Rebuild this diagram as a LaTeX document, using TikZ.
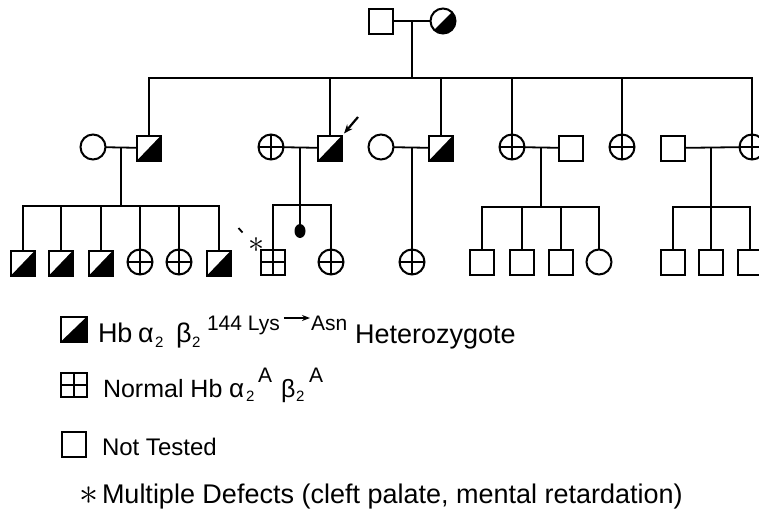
\documentclass[tikz,border=0pt]{standalone}
\usepackage{fix-cm}
\usepackage{fontspec}
\setmainfont{Liberation Sans}
\usetikzlibrary{arrows.meta,calc,shapes.geometric}
\begin{document}
\begin{tikzpicture}[x=1pt,y=-1pt,
  sym/.style={draw, line width=2, inner sep=0, outer sep=0},
  male/.style={sym, rectangle, minimum width=24, minimum height=25},
  female/.style={sym, circle, minimum size=25},
  het/.style={path picture={\fill (path picture bounding box.south west) -- (path picture bounding box.north east) -- (path picture bounding box.south east) -- cycle;}},
  plus/.style={path picture={\draw[line width=1.6] (path picture bounding box.north) -- (path picture bounding box.south) (path picture bounding box.west) -- (path picture bounding box.east);}},
  ln/.style={line width=1.8},
  lt/.style={inner sep=0, outer sep=0, anchor=base west, font=\fontsize{27}{32}\selectfont},
  sub/.style={lt, font=\fontsize{15}{15}\selectfont},
  sup/.style={lt, font=\fontsize{21}{21}\selectfont},
]
\useasboundingbox (0,0) rectangle (759,525);
\fill[white] (0,0) rectangle (759,525);
\clip (0,0) rectangle (759,525);

% Generation I
\node[male] (i1) at (381,21) {};
\node[female,het] (i2) at (443,21) {};
\coordinate (im) at (412,21);
\coordinate (is) at (412,78);
\draw[ln] (i1) -- (i2);
\draw[ln] (im) -- (is);

% Generation II
\node[female] (a1) at (93,147) {};
\node[male,het] (a2) at (149,148) {};
\node[female,plus] (b1) at (271,147) {};
\node[male,het] (b2) at (330,148) {};
\node[female] (c1) at (381,147) {};
\node[male,het] (c2) at (441,148) {};
\node[female,plus] (d1) at (512,147) {};
\node[male] (d2) at (571,148) {};
\node[female,plus] (e1) at (622,147) {};
\node[male] (f1) at (673,148) {};
\node[female,plus] (f2) at (752,147) {};

\draw[ln] (a2.north) |- (is) -| (f2.north);
\foreach \n in {b2,c2,d1,e1} \draw[ln] (\n.north) -- (\n.north |- is);

\draw[ln] (a1) -- (a2);
\draw[ln] (b1) -- (b2);
\draw[ln] (c1) -- (c2);
\draw[ln] (d1) -- (d2);
\draw[ln] (f1) -- (f2);

\coordinate (am) at (121,147); \coordinate (as) at (121,206);
\coordinate (bm) at (300,147); \coordinate (bs) at (300,205);
\coordinate (cm) at (412,147);
\coordinate (dm) at (541,147); \coordinate (ds) at (541,207);
\coordinate (fm) at (711,147); \coordinate (fs) at (711,207);
\draw[ln] (am) -- (as);
\draw[ln] (bm) -- (bs);
\draw[ln] (dm) -- (ds);

% proband arrow
\coordinate (pa) at (358,117);
\draw[line width=2.2, -{Stealth[length=9,width=7]}] (pa) -- ($(b2.north east)+(2,-2)$);

% Generation III
\node[male,het] (k1) at (23,263) {};
\node[male,het] (k2) at (61,263) {};
\node[male,het] (k3) at (101,263) {};
\node[female,plus] (k4) at (140,262) {};
\node[female,plus] (k5) at (179,262) {};
\node[male,het] (k6) at (219,263) {};
\draw[ln] (k1.north) |- (as) -| (k6.north);
\foreach \n in {k2,k3,k4,k5} \draw[ln] (\n.north) -- (\n.north |- as);

\node[male,plus] (l1) at (273,262) {};
\node[ellipse, fill, minimum width=11, minimum height=14, inner sep=0] (l2) at (300,231) {};
\node[female,plus] (l3) at (331,262) {};
\draw[ln] (l1.north) |- (bs) -| (l3.north);
\draw[ln] (bs) -- (l2);
\node[inner sep=0, anchor=base, font=\fontsize{32}{32}\selectfont] (ast) at (256,252) {$\ast$};
\draw[line width=1.8] (238.5,228) -- (242.5,232.5);

\node[female,plus] (m1) at (412,262) {};
\draw[ln] (cm) -- (m1);

\node[male] (n1) at (482,262) {};
\node[male] (n2) at (522,262) {};
\node[male] (n3) at (561,262) {};
\node[female] (n4) at (599,262) {};
\draw[ln] (n1.north) |- (ds) -| (n4.north);
\foreach \n in {n2,n3} \draw[ln] (\n.north) -- (\n.north |- ds);

\node[male] (o1) at (673,262) {};
\node[male] (o2) at (711,262) {};
\node[male] (o3) at (750,262) {};
\draw[ln] (o1.north) |- (fs) -| (o3.north);
\draw[ln] (fm) -- (o2);

% Legend
\node[male,het,minimum width=26] (L1) at (74,329) {};
\node[male,plus,minimum width=26,minimum height=24] (L2) at (74,385) {};
\node[male] (L3) at (74,444.5) {};

\node[lt] (t1a) at (98,342) {Hb};
\node[lt] (t1b) at (138,342) {α};
\node[sub] (t1c) at (155,347) {2};
\node[lt] (t1d) at (176,342) {β};
\node[sub] (t1e) at (192,347) {2};
\node[sup] (t1f) at (207,330) {144 Lys};
\node[sup] (t1g) at (311,330) {Asn};
\draw[line width=1.5, -{Stealth[length=8,width=6]}] ($(t1f.base east)+(4,-12)$) -- ($(t1g.base west)+(-1,-12)$);
\node[lt] (t1h) at (355,343) {Heterozygote};

\node[lt, font=\fontsize{25}{25}\selectfont] (t2a) at (103,397) {Normal Hb};
\node[lt, font=\fontsize{26}{26}\selectfont] (t2b) at (229,397) {α};
\node[sub] (t2c) at (246,401) {2};
\node[sup] (t2d) at (258,382) {A};
\node[lt, font=\fontsize{25}{25}\selectfont] (t2e) at (281,397) {β};
\node[sub] (t2f) at (296,401) {2};
\node[sup] (t2g) at (309,382) {A};

\node[lt, font=\fontsize{24}{24}\selectfont] (t3) at (102,455) {Not Tested};

\node[lt, font=\fontsize{38}{38}\selectfont] (t4a) at (79,504.5) {$\ast$};
\node[lt] (t4b) at (102,503) {Multiple Defects (cleft palate, mental retardation)};
\end{tikzpicture}
\end{document}
